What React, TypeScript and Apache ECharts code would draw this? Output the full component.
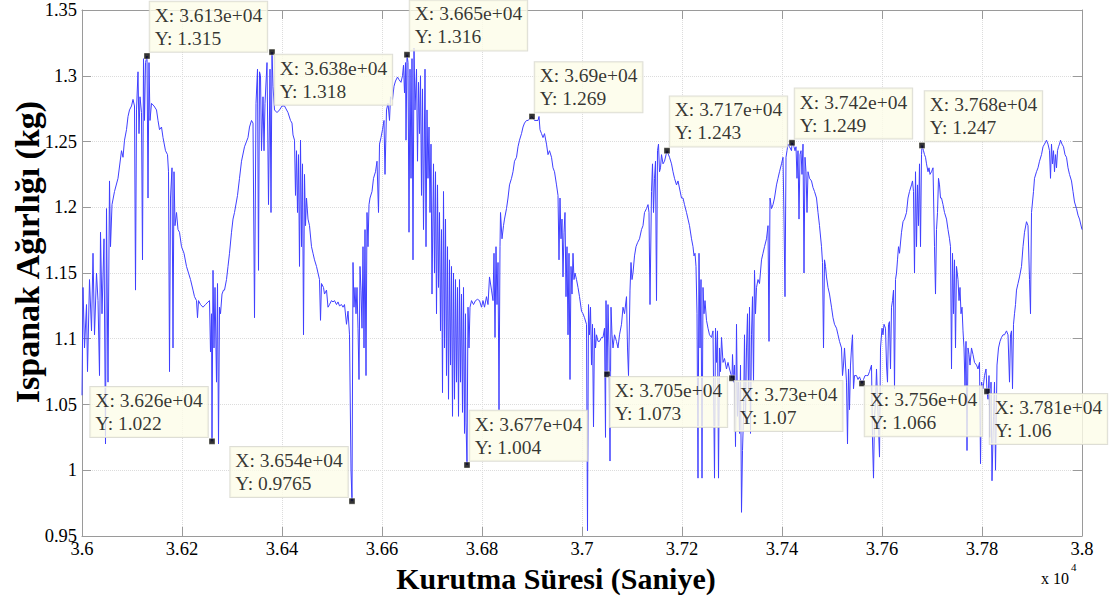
import React, { useEffect, useRef } from "react";
import * as echarts from "echarts";

// Drying time (s) / spinach weight (kg)
const cycleA: [number, number][] = [
  [36000,1.057],[36002,1.139],[36005,1.093],[36009,1.126],[36011,1.075],[36015,1.145],[36019,1.106],[36022,1.165],[36025,1.103],[36029,1.150],[36032,1.129],[36035,1.072],[36037,1.181],[36040,1.119],[36044,1.176],[36047,1.020],[36049,1.199],[36052,1.067],[36055,1.220],[36057,1.170],[36060,1.202],[36065,1.212],[36072,1.222],[36079,1.243],[36082,1.238],[36085,1.251],[36089,1.259],[36092,1.269],[36095,1.274],[36099,1.277],[36102,1.282],[36105,1.277],[36107,1.137],[36109,1.274],[36112,1.303],[36114,1.256],[36116,1.284],[36119,1.272],[36121,1.160],[36123,1.313],[36125,1.266],[36127,1.310],[36130,1.315],[36132,1.207],[36134,1.310],[36136,1.266],[36139,1.279],[36144,1.277],[36149,1.274],[36152,1.266],[36155,1.259],[36159,1.261],[36162,1.253],[36167,1.243],[36171,1.240],[36173,1.227],[36175,1.075],[36177,1.207],[36180,1.230],[36182,1.093],[36184,1.227],[36186,1.186],[36189,1.196],[36192,1.183],[36195,1.181],[36199,1.170],[36204,1.165],[36209,1.155],[36213,1.150],[36217,1.145],[36222,1.137],[36225,1.132],[36229,1.129],[36231,1.116],[36233,1.129],[36237,1.126],[36242,1.124],[36247,1.126],[36252,1.128],[36255,1.129],[36257,1.090],[36259,1.119],[36260,1.022],[36262,1.152],[36264,1.093],[36266,1.139],[36269,1.067],[36271,1.142],[36273,1.020],[36275,1.124],[36277,1.119],[36280,1.134],[36283,1.137],[36285,1.137],[36289,1.145],[36292,1.155],[36295,1.165],[36299,1.181],[36302,1.191],[36305,1.196],[36311,1.209],[36315,1.222],[36319,1.235],[36325,1.246],[36332,1.253],[36335,1.261],[36339,1.266],[36342,1.264],[36345,1.116],[36348,1.279],[36351,1.305],[36353,1.152],[36355,1.303],[36357,1.300],[36359,1.243],[36362,1.284],[36364,1.243],[36366,1.279],[36370,1.310],[36373,1.202],[36376,1.305],[36378,1.196],[36380,1.318],[36382,1.292],[36385,1.274],[36390,1.272]
];

const cycleB: [number, number][] = [
  [36395,1.274],[36400,1.277],[36405,1.277],[36412,1.272],[36417,1.266],[36420,1.264],[36422,1.255],[36425,1.251],[36427,1.209],[36429,1.243],[36431,1.196],[36433,1.240],[36435,1.155],[36437,1.251],[36439,1.170],[36441,1.233],[36443,1.103],[36445,1.225],[36447,1.186],[36449,1.207],[36452,1.191],[36455,1.186],[36459,1.170],[36462,1.165],[36465,1.160],[36469,1.155],[36472,1.150],[36475,1.145],[36477,1.114],[36479,1.142],[36483,1.139],[36485,1.134],[36489,1.137],[36492,1.124],[36495,1.126],[36499,1.129],[36502,1.128],[36505,1.129],[36509,1.126],[36512,1.128],[36515,1.125],[36519,1.126],[36522,1.124],[36525,1.126],[36529,1.111],[36532,1.121],[36535,1.103],[36538,1.000],[36540,0.9765],[36542,1.158],[36544,1.124],[36546,1.139],[36548,1.119],[36550,1.139],[36552,1.108],[36554,1.069],[36556,1.155],[36558,1.137],[36560,1.108],[36562,1.170],[36564,1.093],[36566,1.183],[36568,1.072],[36570,1.196],[36572,1.170],[36574,1.202],[36576,1.207],[36580,1.212],[36583,1.222],[36587,1.227],[36590,1.235],[36593,1.196],[36595,1.248],[36598,1.253],[36601,1.259],[36604,1.266],[36606,1.225],[36609,1.274],[36612,1.279],[36615,1.266],[36617,1.284],[36621,1.282],[36624,1.292],[36627,1.296],[36631,1.299],[36634,1.297],[36638,1.295],[36641,1.300],[36643,1.308],[36645,1.287],[36647,1.310],[36648,1.251],[36650,1.316],[36652,1.310],[36654,1.181],[36656,1.305],[36658,1.222],[36660,1.313],[36662,1.160],[36664,1.321],[36666,1.274],[36669,1.305],[36671,1.235],[36673,1.295],[36675,1.256],[36677,1.300],[36679,1.209],[36681,1.290],[36683,1.183],[36686,1.305],[36688,1.170],[36690,1.274],[36692,1.222],[36694,1.261],[36696,1.196],[36698,1.248],[36700,1.134],[36703,1.233],[36705,1.150],[36707,1.227],[36709,1.119],[36711,1.217],[36713,1.139],[36715,1.196],[36717,1.106],[36719,1.183],[36721,1.059],[36723,1.212],[36725,1.093],[36727,1.191],[36729,1.072],[36731,1.170],[36733,1.054],[36735,1.160],[36737,1.080],[36739,1.155],[36741,1.041],[36743,1.150],[36745,1.054],[36747,1.145],[36749,1.067],[36751,1.139],[36753,1.041],[36755,1.145],[36757,1.067],[36759,1.134],[36761,1.044],[36763,1.139],[36765,1.028],[36767,1.119],[36768,1.036],[36770,1.004],[36772,1.124],[36774,1.093],[36776,1.124],[36779,1.129],[36783,1.126],[36787,1.129],[36791,1.130],[36795,1.129]
];

const cycleC: [number, number][] = [
  [36799,1.124],[36802,1.129],[36805,1.124],[36809,1.132],[36812,1.126],[36815,1.147],[36819,1.137],[36822,1.129],[36824,1.165],[36826,1.101],[36828,1.170],[36830,1.126],[36832,1.158],[36834,1.046],[36836,1.170],[36837,1.196],[36840,1.176],[36843,1.186],[36845,1.191],[36849,1.199],[36852,1.207],[36855,1.217],[36859,1.222],[36862,1.227],[36865,1.235],[36869,1.238],[36872,1.246],[36875,1.251],[36879,1.256],[36882,1.261],[36885,1.264],[36889,1.266],[36892,1.266],[36900,1.269],[36905,1.266],[36912,1.266],[36914,1.269],[36916,1.259],[36919,1.256],[36922,1.253],[36925,1.256],[36929,1.248],[36932,1.240],[36935,1.243],[36939,1.238],[36942,1.230],[36945,1.227],[36949,1.217],[36952,1.209],[36954,1.160],[36956,1.207],[36958,1.176],[36960,1.191],[36962,1.147],[36964,1.181],[36966,1.196],[36968,1.132],[36970,1.170],[36972,1.103],[36974,1.165],[36976,1.069],[36978,1.155],[36980,1.134],[36982,1.165],[36984,1.145],[36986,1.150],[36989,1.145],[36992,1.139],[36995,1.132],[36999,1.121],[37002,1.119],[37005,1.116],[37009,1.111],[37011,0.954],[37013,1.126],[37015,1.103],[37017,1.124],[37019,1.080],[37021,1.111],[37023,1.033],[37025,1.108],[37027,1.093],[37029,1.103],[37032,1.098],[37035,1.098],[37039,1.101],[37042,1.101],[37045,1.108],[37047,1.025],[37048,1.129],[37050,1.073],[37052,1.126],[37054,1.093],[37056,1.007],[37058,1.124],[37060,1.103],[37062,1.093],[37065,1.103],[37069,1.098],[37072,1.093],[37075,1.103],[37079,1.111],[37082,1.124],[37085,1.119],[37089,1.132],[37091,1.093],[37093,1.072],[37096,1.137],[37098,1.158],[37100,1.145],[37102,1.150],[37105,1.163],[37108,1.170],[37111,1.173],[37115,1.176],[37119,1.183],[37122,1.186],[37125,1.196],[37129,1.199],[37132,1.202],[37134,1.196],[37136,1.126],[37139,1.212],[37141,1.233],[37143,1.196],[37145,1.222],[37147,1.235],[37149,1.129],[37151,1.243],[37153,1.248],[37155,1.227],[37157,1.230],[37159,1.240],[37162,1.233],[37165,1.235],[37170,1.243],[37175,1.238],[37179,1.233],[37182,1.227],[37185,1.222],[37189,1.217],[37192,1.220],[37199,1.207]
];

const cycleD: [number, number][] = [
  [37202,1.207],[37205,1.202],[37209,1.196],[37212,1.191],[37215,1.186],[37219,1.176],[37222,1.170],[37224,1.163],[37226,1.165],[37228,1.155],[37230,1.119],[37232,0.994],[37234,1.165],[37236,1.093],[37238,1.145],[37240,0.994],[37242,1.139],[37244,1.119],[37246,1.129],[37249,1.114],[37252,1.108],[37255,1.103],[37259,1.101],[37262,1.106],[37265,0.994],[37267,1.108],[37269,1.082],[37271,1.106],[37273,0.994],[37275,1.093],[37277,1.075],[37279,1.101],[37282,1.082],[37285,1.085],[37289,1.077],[37292,1.082],[37295,1.077],[37300,1.070],[37301,1.088],[37303,1.067],[37305,1.080],[37307,1.018],[37309,1.111],[37311,1.041],[37313,1.067],[37315,1.028],[37317,1.080],[37319,0.968],[37321,1.015],[37323,1.041],[37325,1.103],[37327,1.036],[37329,1.093],[37331,1.119],[37333,1.054],[37335,1.124],[37337,1.028],[37339,1.103],[37341,1.132],[37343,1.067],[37345,1.152],[37347,1.119],[37349,1.139],[37352,1.145],[37355,1.142],[37359,1.160],[37362,1.165],[37365,1.170],[37369,1.176],[37372,1.186],[37374,1.098],[37376,1.207],[37379,1.199],[37382,1.202],[37385,1.207],[37389,1.217],[37392,1.222],[37395,1.227],[37399,1.233],[37402,1.238],[37404,1.191],[37406,1.132],[37408,1.238],[37410,1.243],[37412,1.248],[37415,1.246],[37419,1.243],[37420,1.249],[37424,1.246],[37426,1.243],[37428,1.246],[37430,1.222],[37432,1.243],[37434,1.191],[37436,1.240],[37438,1.243],[37440,1.225],[37442,1.248],[37444,1.150],[37446,1.238],[37448,1.227],[37450,1.196],[37452,1.227],[37455,1.222],[37459,1.220],[37462,1.215],[37465,1.212],[37469,1.207],[37472,1.196],[37475,1.186],[37479,1.170],[37481,1.158],[37483,1.093],[37485,1.160],[37487,1.155],[37489,1.147],[37492,1.139],[37495,1.134],[37499,1.124],[37502,1.116],[37505,1.111],[37509,1.108],[37512,1.103],[37515,1.098],[37519,1.093],[37521,1.072],[37523,1.080],[37525,1.093],[37529,1.067],[37531,1.020],[37533,1.077],[37535,1.046],[37537,1.080],[37539,1.093],[37541,1.103],[37543,1.062],[37545,1.072],[37549,1.072],[37552,1.069],[37555,1.071],[37560,1.066],[37563,1.069],[37566,1.072],[37569,1.072],[37572,1.072],[37575,1.075],[37579,1.080],[37581,1.023],[37583,0.994],[37585,1.041],[37587,1.051],[37589,1.077]
];

const cycleE: [number, number][] = [
  [37595,1.010],[37597,1.093],[37600,1.108],[37602,1.103],[37604,1.111],[37607,1.108],[37609,1.080],[37611,1.067],[37613,1.111],[37615,1.113],[37617,1.077],[37619,1.124],[37621,1.129],[37623,1.137],[37625,1.062],[37627,1.145],[37629,1.150],[37631,1.160],[37633,1.170],[37635,1.165],[37639,1.181],[37642,1.189],[37645,1.191],[37649,1.196],[37652,1.207],[37655,1.212],[37659,1.217],[37661,1.220],[37663,1.212],[37665,1.150],[37667,1.227],[37669,1.170],[37671,1.217],[37673,1.186],[37675,1.233],[37677,1.170],[37679,1.240],[37680,1.247],[37683,1.243],[37685,1.240],[37687,1.238],[37689,1.233],[37692,1.227],[37694,1.230],[37696,1.225],[37699,1.227],[37702,1.230],[37705,1.170],[37707,1.134],[37709,1.183],[37711,1.196],[37713,1.222],[37715,1.217],[37717,1.207],[37719,1.207],[37722,1.202],[37725,1.196],[37729,1.191],[37732,1.183],[37735,1.176],[37737,1.170],[37739,1.077],[37741,1.165],[37743,1.119],[37745,1.160],[37747,1.093],[37749,1.155],[37752,1.145],[37754,1.129],[37756,1.139],[37758,1.119],[37760,1.124],[37762,1.106],[37764,1.093],[37766,1.064],[37768,1.098],[37770,1.015],[37772,1.093],[37774,1.088],[37776,1.080],[37779,1.093],[37782,1.088],[37785,1.082],[37789,1.080],[37792,1.077],[37795,1.082],[37797,1.005],[37799,1.067],[37802,1.062],[37805,1.072],[37808,1.077],[37810,1.060],[37812,1.054],[37814,1.072],[37816,1.025],[37818,1.067],[37820,0.992],[37823,1.041],[37825,1.067],[37827,1.000],[37830,1.080],[37833,1.093],[37836,1.098],[37839,1.101],[37842,1.103],[37845,1.103],[37849,1.106],[37852,1.103],[37855,1.067],[37857,1.103],[37859,1.106],[37861,1.062],[37863,1.111],[37865,1.119],[37867,1.126],[37869,1.137],[37872,1.142],[37875,1.147],[37879,1.155],[37882,1.170],[37885,1.181],[37889,1.189],[37892,1.186],[37895,1.145],[37897,1.119],[37899,1.196],[37901,1.204],[37903,1.212],[37905,1.222],[37909,1.227],[37912,1.230],[37915,1.235],[37919,1.240],[37922,1.246],[37925,1.248],[37929,1.251],[37932,1.248],[37935,1.243],[37937,1.222],[37939,1.248],[37941,1.233],[37943,1.243],[37945,1.227],[37947,1.240],[37949,1.230],[37951,1.243],[37953,1.246],[37955,1.248],[37957,1.251],[37960,1.248],[37963,1.246],[37966,1.240],[37969,1.238],[37972,1.230],[37975,1.225],[37979,1.220],[37982,1.212],[37985,1.204],[37989,1.199],[37992,1.194],[37995,1.191],[38000,1.183]
];

// Data tips (MATLAB data cursors)
const tipTimes = [36130, 36380, 36650, 36900, 37170, 37420, 37680, 36260, 36540, 36770, 37050, 37300, 37560, 37810];
const tipWeights = [1.315, 1.318, 1.316, 1.269, 1.243, 1.249, 1.247, 1.022, 0.9765, 1.004, 1.073, 1.07, 1.066, 1.06];
const tipSides = ["ur", "dr", "ur", "ur", "ur", "ur", "ur", "ul", "ul", "ur", "dr", "dr", "dr", "dr"];

const xTitle = "Kurutma Süresi (Saniye)";
const yTitle = "Ispanak Ağırlığı (kg)";

const FONT = "'Liberation Serif', 'Times New Roman', serif";
const TIP_FONT_SIZE = 19.5;

const fmt4 = (n: number) => String(Number(n.toPrecision(4)));
const tipText = (t: number, w: number) => "X: " + fmt4(t / 1e4) + "e+04\nY: " + fmt4(w);

function measure(text: string): number {
  const c = document.createElement("canvas").getContext("2d");
  if (!c) return 108;
  c.font = `${TIP_FONT_SIZE}px 'Liberation Serif'`;
  return Math.max(...text.split("\n").map((l) => c.measureText(l).width));
}

export default function App() {
  const ref = useRef<HTMLDivElement>(null);

  useEffect(() => {
    if (!ref.current) return;
    const chart = echarts.init(ref.current, undefined, { renderer: "svg" });
    const lineData = [...cycleA, ...cycleB, ...cycleC, ...cycleD, ...cycleE];

    const tipData = tipTimes.map((t, i) => {
      const side = tipSides[i];
      let label: any;
      if (side === "ur") label = { position: [6, -1], align: "left", verticalAlign: "bottom" };
      else if (side === "dr") label = { position: [6, 6], align: "left", verticalAlign: "top" };
      else {
        const w = measure(tipText(t, tipWeights[i])) + 10;
        label = { position: [-w - 1, -1], align: "left", verticalAlign: "bottom" };
      }
      return { value: [t, tipWeights[i]], label };
    });

    const axisGray = "#9a9a9a";

    chart.setOption({
      animation: false,
      backgroundColor: "#ffffff",
      grid: { left: 82, right: 38, top: 10, bottom: 63, containLabel: false },
      xAxis: [
        {
          type: "value",
          min: 36000,
          max: 38000,
          interval: 200,
          position: "bottom",
          axisLine: { show: true, lineStyle: { color: axisGray, width: 1 } },
          axisTick: { show: true, inside: true, length: 9, lineStyle: { color: axisGray } },
          axisLabel: {
            fontFamily: FONT,
            fontSize: 18.5,
            color: "#000",
            margin: 3,
            formatter: (v: number) => String(Number((v / 1e4).toFixed(2))),
          },
          splitLine: { show: true, lineStyle: { color: "#dcdcdc", type: "dotted", width: 1 } },
        },
        {
          type: "value",
          min: 36000,
          max: 38000,
          interval: 200,
          position: "top",
          axisLine: { show: true, lineStyle: { color: axisGray, width: 1 } },
          axisTick: { show: true, inside: true, length: 9, lineStyle: { color: axisGray } },
          axisLabel: { show: false },
          splitLine: { show: false },
        },
      ],
      yAxis: [
        {
          type: "value",
          min: 0.95,
          max: 1.35,
          interval: 0.05,
          position: "left",
          axisLine: { show: true, lineStyle: { color: axisGray, width: 1 } },
          axisTick: { show: true, inside: true, length: 9, lineStyle: { color: axisGray } },
          axisLabel: {
            fontFamily: FONT,
            fontSize: 18.5,
            color: "#000",
            margin: 5,
            formatter: (v: number) => String(Number(v.toFixed(2))),
          },
          splitLine: { show: true, lineStyle: { color: "#dcdcdc", type: "dotted", width: 1 } },
        },
        {
          type: "value",
          min: 0.95,
          max: 1.35,
          interval: 0.05,
          position: "right",
          axisLine: { show: true, lineStyle: { color: axisGray, width: 1 } },
          axisTick: { show: true, inside: true, length: 9, lineStyle: { color: axisGray } },
          axisLabel: { show: false },
          splitLine: { show: false },
        },
      ],
      series: [
        {
          type: "line",
          data: lineData,
          xAxisIndex: 0,
          yAxisIndex: 0,
          showSymbol: false,
          symbol: "none",
          lineStyle: { color: "#3f3fff", width: 1 },
          z: 2,
        },
        {
          type: "scatter",
          data: tipData,
          xAxisIndex: 0,
          yAxisIndex: 0,
          symbol: "rect",
          symbolSize: 6,
          itemStyle: { color: "#000000", borderColor: "#fffff0", borderWidth: 0.5 },
          z: 10,
          label: {
            show: true,
            formatter: (p: any) => tipText(p.value[0], p.value[1]),
            fontFamily: FONT,
            fontSize: TIP_FONT_SIZE,
            lineHeight: 23,
            color: "#000",
            backgroundColor: "#fdfde8",
            borderColor: "#d6d6cc",
            borderWidth: 1,
            padding: [2, 5, 2, 5],
          },
        },
      ],
      graphic: [
        {
          type: "text",
          x: 556,
          y: 578,
          style: {
            text: xTitle,
            fontFamily: FONT,
            fontWeight: "bold",
            fontSize: 30,
            fill: "#000",
            align: "center",
            verticalAlign: "middle",
          },
        },
        {
          type: "text",
          x: 27,
          y: 252,
          rotation: Math.PI / 2,
          style: {
            text: yTitle,
            fontFamily: FONT,
            fontWeight: "bold",
            fontSize: 34,
            fill: "#000",
            align: "center",
            verticalAlign: "middle",
          },
        },
        {
          type: "text",
          x: 1041,
          y: 570,
          style: {
            text: "x 10",
            fontFamily: FONT,
            fontSize: 16,
            fill: "#000",
            align: "left",
            verticalAlign: "top",
          },
        },
        {
          type: "text",
          x: 1071,
          y: 561,
          style: {
            text: "4",
            fontFamily: FONT,
            fontSize: 11,
            fill: "#000",
            align: "left",
            verticalAlign: "top",
          },
        },
      ],
    });

    return () => chart.dispose();
  }, []);

  return (
    <div
      ref={ref}
      style={{ position: "absolute", left: 0, top: 0, width: 1120, height: 599 }}
    />
  );
}
